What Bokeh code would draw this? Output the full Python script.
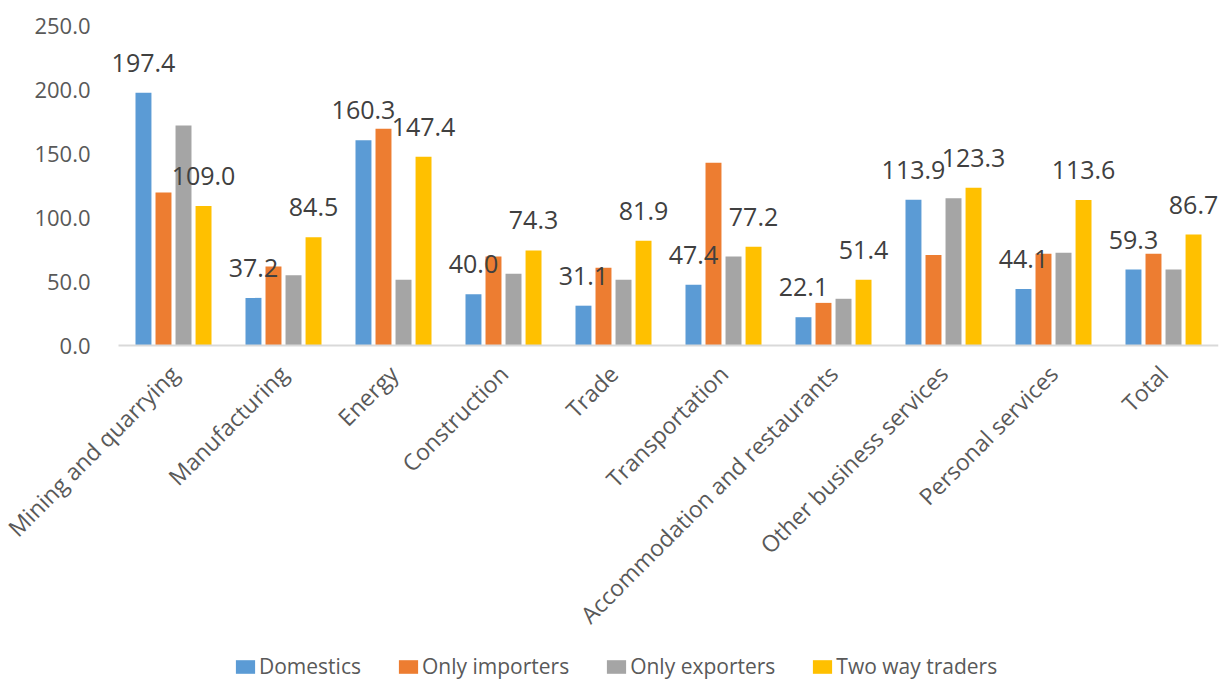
import math
from bokeh.plotting import figure
from bokeh.models import (ColumnDataSource, Range1d, FixedTicker,
                          NumeralTickFormatter, LabelSet, Legend, LegendItem)
from bokeh.core.properties import value
from bokeh.transform import dodge
from bokeh.embed import file_html
from bokeh.resources import INLINE

categories = ["Mining and quarrying", "Manufacturing", "Energy", "Construction", "Trade",
              "Transportation", "Accommodation and restaurants", "Other business services",
              "Personal services", "Total"]
domestics = [197.4, 37.2, 160.3, 40.0, 31.1, 47.4, 22.1, 113.9, 44.1, 59.3]
only_importers = [119.5, 61.7, 169.3, 69.5, 60.7, 142.7, 33.3, 70.8, 71.6, 71.6]
only_exporters = [171.9, 54.9, 51.3, 56.0, 51.3, 69.5, 36.5, 115.1, 72.4, 59.4]
two_way_traders = [109.0, 84.5, 147.4, 74.3, 81.9, 77.2, 51.4, 123.3, 113.6, 86.7]
series_names = ["Domestics", "Only importers", "Only exporters", "Two way traders"]
y_ticks = [0, 50, 100, 150, 200, 250]

colors = ["#5B9BD5", "#ED7D31", "#A5A5A5", "#FFC000"]
FONT = "Open Sans"

n = len(categories)
cat_pos = [i + 0.5 for i in range(n)]          # category slot centres on a numeric scale
data = dict(x=cat_pos, d=domestics, i=only_importers, e=only_exporters, t=two_way_traders,
            d_lbl=["%.1f" % v for v in domestics], t_lbl=["%.1f" % v for v in two_way_traders])
src = ColumnDataSource(data)

# Layout: one slot = 110 px; 118 px of room left of the first slot for the value axis.
# Value axis 0..250 spans 320 px starting 25 px below the top; the room below zero
# holds the category labels and the legend.
SLOT_PX = 110
LEFT_PX = 118
TOP_PX = 25
PX_PER_UNIT = 320 / 250
FRAME_H = 680
p = figure(x_range=Range1d(-LEFT_PX / SLOT_PX, n),
           y_range=Range1d(-(FRAME_H - TOP_PX - 320) / PX_PER_UNIT, 250 + TOP_PX / PX_PER_UNIT),
           frame_width=LEFT_PX + SLOT_PX * n, frame_height=FRAME_H,
           output_backend="svg", toolbar_location=None,
           min_border_left=0, min_border_right=3, min_border_top=0, min_border_bottom=0)
p.outline_line_color = None
p.background_fill_color = "white"
p.xgrid.grid_line_color = None
p.ygrid.grid_line_color = None

offsets = [-0.273, -0.091, 0.091, 0.273]
cols = ["d", "i", "e", "t"]
renderers = []
for off, c, col in zip(offsets, cols, colors):
    r = p.vbar(x=dodge("x", off), top=c, width=0.145, source=src,
               fill_color=col, line_color=None)
    renderers.append(r)

for off, c, yc in [(offsets[0], "d_lbl", "d"), (offsets[3], "t_lbl", "t")]:
    lbl = LabelSet(x=dodge("x", off), y=yc, text=c, source=src,
                   text_align="center", text_baseline="alphabetic", y_offset=21,
                   text_font=value(FONT), text_font_size=value("25px"), text_color="#404040")
    p.add_layout(lbl)

p.yaxis.fixed_location = 0
p.yaxis.ticker = FixedTicker(ticks=y_ticks)
p.yaxis.formatter = NumeralTickFormatter(format="0.0")
p.yaxis.axis_line_color = None
p.yaxis.major_tick_line_color = None
p.yaxis.minor_tick_line_color = None
p.yaxis.major_label_text_font = FONT
p.yaxis.major_label_text_font_size = "22px"
p.yaxis.major_label_text_color = "#595959"
p.yaxis.major_label_standoff = 22

p.xaxis.fixed_location = 0
p.xaxis.bounds = (0, n)
p.xaxis.ticker = FixedTicker(ticks=cat_pos)
p.xaxis.major_label_overrides = {pos: name for pos, name in zip(cat_pos, categories)}
p.xaxis.axis_line_color = "#D9D9D9"
p.xaxis.axis_line_width = 2
p.xaxis.major_tick_line_color = None
p.xaxis.minor_tick_line_color = None
p.xaxis.major_label_orientation = math.pi / 4
p.xaxis.major_label_text_font = FONT
p.xaxis.major_label_text_font_size = "23px"
p.xaxis.major_label_text_color = "#595959"
p.xaxis.major_label_standoff = 18

legend = Legend(items=[LegendItem(label=s, renderers=[r]) for s, r in zip(series_names, renderers)],
                orientation="horizontal", location=(233, 0),
                label_text_font=FONT, label_text_font_size="21px", label_text_color="#595959",
                glyph_width=24, glyph_height=17, label_standoff=2, spacing=35,
                border_line_color=None, background_fill_alpha=0, padding=0, margin=0)
p.add_layout(legend, "center")

open("out.html", "w").write(file_html(p, INLINE))
